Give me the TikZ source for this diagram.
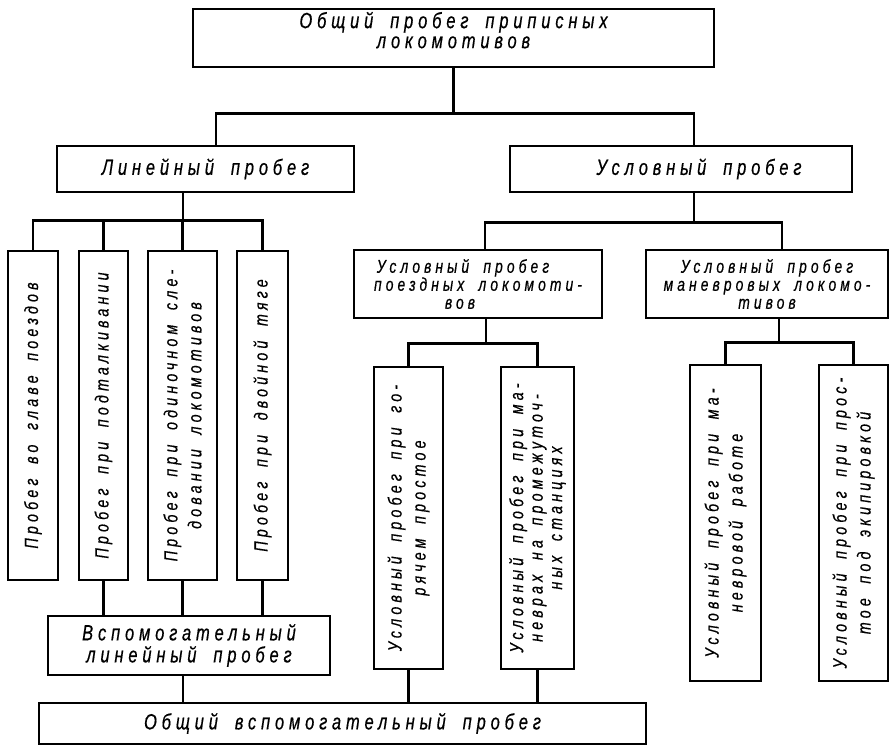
\documentclass[tikz,border=0pt]{standalone}
\usepackage{fontspec}
% narrow slanted drafting-style lettering with wide tracking
\newfontfamily\gost{Liberation Sans}[LetterSpace=22, WordSpace=1.8, FakeStretch=0.75, FakeBold=0.5]
\tikzset{
  box/.style={draw, line width=1.4pt, rectangle, inner sep=0pt, align=center,
    font=\gost\itshape\fontsize{22}{20}\selectfont},
  subbox/.style={box, font=\gost\itshape\fontsize{18.5}{18}\selectfont},
  leaf/.style={draw, line width=1.4pt, rectangle, inner sep=0pt, align=center, rotate=90,
    font=\gost\itshape\fontsize{19}{24}\selectfont},
  conn/.style={line width=2.6pt}
}
\begin{document}
\begin{tikzpicture}[x=1pt,y=-1pt]
\fill[white] (0,0) rectangle (891,747);
\useasboundingbox (0,0) rectangle (891,747);

% upper levels
\node[box, minimum width=521pt, minimum height=58pt, text depth=16pt] (top) at (453.5,38)
  {Общий пробег приписных\\локомотивов};
\node[box, minimum width=297pt, minimum height=46pt] (lin) at (205.5,169)
  {Линейный пробег};
\node[box, minimum width=342pt, minimum height=46pt] (cond) at (681,169)
  {\hspace*{36pt}Условный пробег};
\node[subbox, minimum width=248pt, minimum height=68pt] (sub1) at (478,284)
  {Условный пробег\hspace*{30pt}\\поездных локомоти-\\вов\hspace*{36pt}};
\node[subbox, minimum width=242pt, minimum height=68pt] (sub2) at (767,284)
  {Условный пробег\\маневровых локомо-\\тивов};

% kinds of line running
\node[leaf, minimum width=329pt, minimum height=50pt] (l1) at (33,415.5)
  {Пробег во главе поездов};
\node[leaf, minimum width=329pt, minimum height=49pt] (l2) at (103.5,415.5)
  {Пробег при подталкивании};
\node[leaf, minimum width=329pt, minimum height=69pt] (l3) at (182.5,415.5)
  {Пробег при одиночном сле-\\довании локомотивов};
\node[leaf, minimum width=329pt, minimum height=51pt] (l4) at (262.5,415.5)
  {Пробег при двойной тяге};

% kinds of conditional running
\node[leaf, minimum width=302pt, minimum height=69pt] (la) at (408.5,518)
  {Условный пробег при го-\\рячем простое};
\node[leaf, minimum width=302pt, minimum height=73pt, font=\gost\itshape\fontsize{19}{19.5}\selectfont] (lb) at (537.5,518)
  {Условный пробег при ма-\\неврах на промежуточ-\\ных станциях};
\node[leaf, minimum width=316pt, minimum height=71pt] (lc) at (725.5,523)
  {Условный пробег при ма-\\невровой работе};
\node[leaf, minimum width=316pt, minimum height=69pt] (ld) at (853.5,523)
  {Условный пробег при прос-\\тое под экипировкой};

% auxiliary running
\node[box, minimum width=282pt, minimum height=59pt, font=\gost\itshape\fontsize{22}{22}\selectfont] (vsp) at (189,645.5)
  {Вспомогательный\\линейный пробег};
\node[box, minimum width=607pt, minimum height=41pt] (allv) at (342.5,723.5)
  {Общий вспомогательный пробег};

% connectors
\draw[conn] (top.south) -- ++(0,46) coordinate (j1);
\draw[conn] ([xshift=10.5pt]lin.north) |- (j1) -| ([xshift=13pt]cond.north);

\draw[conn] ([xshift=-22.5pt]lin.south) -- ++(0,28) coordinate (j2);
\draw[conn] (l1.east) |- (j2) -| (l4.east);
\draw[conn] (l2.east) -- (l2.east |- j2);
\draw[conn] (l3.east) -- (l3.east |- j2);

\draw[conn] (l2.west) -- (l2.west |- vsp.north);
\draw[conn] (l3.west) -- (l3.west |- vsp.north);
\draw[conn] (l4.west) -- (l4.west |- vsp.north);
\draw[conn] ([xshift=-6pt]vsp.south) -- ++(0,28);

\draw[conn] ([xshift=13pt]cond.south) -- ++(0,30) coordinate (j3);
\draw[conn] ([xshift=7pt]sub1.north) |- (j3) -| ([xshift=15pt]sub2.north);

\draw[conn] ([xshift=8pt]sub1.south) -- ++(0,25) coordinate (j4);
\draw[conn] (la.east) |- (j4) -| (lb.east);

\draw[conn] ([xshift=12pt]sub2.south) -- ++(0,24) coordinate (j5);
\draw[conn] (lc.east) |- (j5) -| (ld.east);

\draw[conn] (la.west) -- (la.west |- allv.north);
\draw[conn] (lb.west) -- (lb.west |- allv.north);
\end{tikzpicture}
\end{document}
